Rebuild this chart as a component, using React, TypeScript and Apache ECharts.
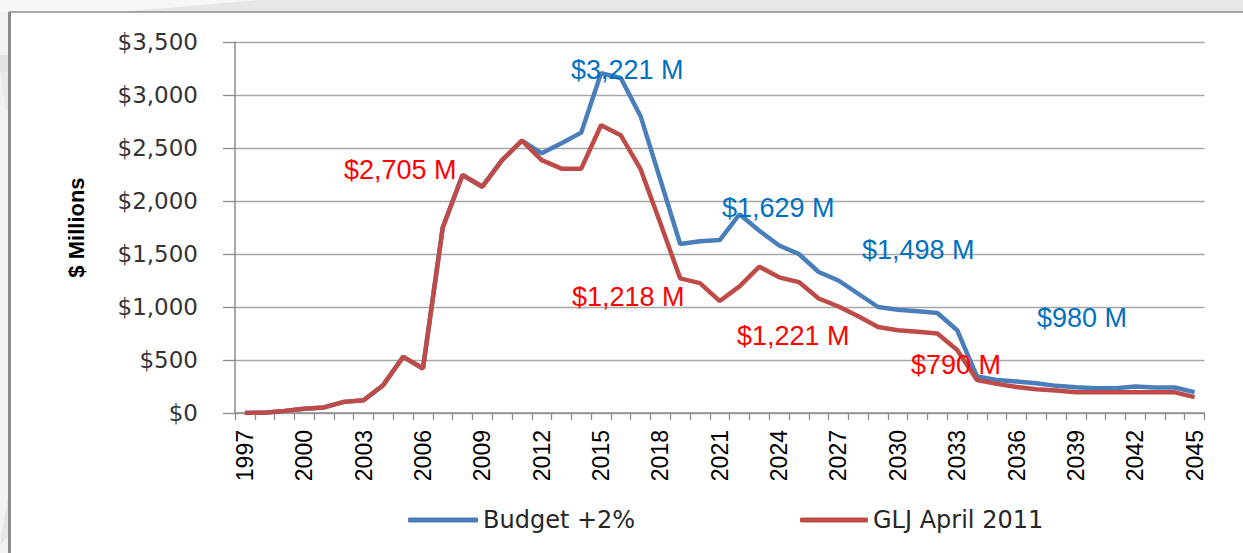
import React, { useEffect, useRef } from "react";
import * as echarts from "echarts";

const years: string[] = [];
for (let y = 1997; y <= 2045; y++) years.push(String(y));

const budgetName = "Budget +2%";
const gljName = "GLJ April 2011";

const budget = [
  0, 3, 20, 40, 53, 105, 120, 265, 530, 420,
  1750, 2245, 2135, 2385, 2570, 2450, 2545, 2645, 3205, 3160,
  2800, 2200, 1594, 1620, 1631, 1875, 1720, 1580, 1500, 1330,
  1250, 1125, 1000, 975, 960, 944, 781, 344, 312, 297,
  281, 256, 244, 234, 234, 250, 240, 240, 197,
];

const glj = [
  0, 3, 20, 40, 53, 105, 120, 265, 530, 420,
  1750, 2245, 2135, 2385, 2570, 2385, 2305, 2305, 2715, 2620,
  2300, 1790, 1270, 1225, 1056, 1195, 1380, 1280, 1235, 1080,
  1005, 912, 812, 781, 766, 750, 594, 312, 275, 245,
  225, 212, 195, 195, 195, 195, 195, 195, 150,
];

const yMin = 0;
const yMax = 3500;
const yStep = 500;

const annotationTexts = ["$3,221 M", "$2,705 M", "$1,218 M", "$1,629 M", "$1,498 M", "$1,221 M", "$980 M", "$790 M"];
const annotationColors = ["#0070C0", "#FF0000", "#FF0000", "#0070C0", "#0070C0", "#FF0000", "#0070C0", "#FF0000"];
const annotationX = [571, 344, 572, 722, 862, 737, 1037, 911];
const annotationY = [70, 170, 297, 208, 250, 336, 318, 365];

export default function App() {
  const ref = useRef<HTMLDivElement>(null);
  useEffect(() => {
    if (!ref.current) return;
    const chart = echarts.init(ref.current, undefined, { renderer: "svg" });
    const blue = "#4A7EBB";
    const red = "#BE4B48";
    const annotations = annotationTexts.map((t, i) => ({
      type: "text",
      x: annotationX[i],
      y: annotationY[i],
      z: 100,
      style: {
        text: t,
        fill: annotationColors[i],
        font: "27px 'Liberation Sans', Arial, sans-serif",
        textAlign: "left",
        textVerticalAlign: "middle",
      },
    }));
    chart.setOption({
      animation: false,
      backgroundColor: "#F2F2F2",
      graphic: [
        { type: "rect", z: -10, silent: true, shape: { x: 0, y: 0, width: 1243, height: 12 }, style: { fill: "#E6E6E6" } },
        { type: "polygon", z: -9, silent: true, shape: { points: [[0, 0], [260, 0], [120, 12], [0, 12]] }, style: { fill: "#F7F7F7" } },
        { type: "polygon", z: -9, silent: true, shape: { points: [[0, 55], [9, 55], [9, 72], [0, 72]] }, style: { fill: "#E2E2E2" } },
        { type: "polygon", z: -9, silent: true, shape: { points: [[0, 72], [9, 72], [9, 110], [6, 110]] }, style: { fill: "#EAEAEA" } },
        { type: "polygon", z: -9, silent: true, shape: { points: [[9, 490], [9, 535], [0, 545]] }, style: { fill: "#E6E6E6" } },
        { type: "rect", z: -8, silent: true, shape: { x: 9, y: 12, width: 1240, height: 545 }, style: { fill: "#FFFFFF" } },
        { type: "line", z: -7, silent: true, shape: { x1: 9, y1: 12, x2: 1243, y2: 12 }, style: { stroke: "#8C8C8C", lineWidth: 1.5 } },
        { type: "line", z: -7, silent: true, shape: { x1: 9.5, y1: 12, x2: 9.5, y2: 553 }, style: { stroke: "#8C8C8C", lineWidth: 3 } },
        ...annotations,
      ],
      grid: { left: 235, right: 38.5, top: 42, bottom: 140, containLabel: false },
      legend: [
        {
          data: [budgetName],
          left: 403,
          top: 503,
          icon: "roundRect",
          itemWidth: 70,
          itemHeight: 5,
          textStyle: { fontFamily: "'DejaVu Sans', sans-serif", fontSize: 24, color: "#262626" },
        },
        {
          data: [gljName],
          left: 795,
          top: 503,
          icon: "roundRect",
          itemWidth: 68,
          itemHeight: 5,
          textStyle: { fontFamily: "'DejaVu Sans', sans-serif", fontSize: 24, color: "#262626" },
        },
      ],
      xAxis: {
        type: "category",
        data: years,
        boundaryGap: true,
        axisLine: { lineStyle: { color: "#8C8C8C", width: 1.5 } },
        axisTick: { show: true, interval: 0, length: 7, lineStyle: { color: "#8C8C8C", width: 1.3 } },
        axisLabel: {
          interval: 2,
          rotate: 90,
          margin: 17,
          color: "#000",
          fontSize: 23,
          fontFamily: "'Liberation Sans', Arial, sans-serif",
        },
        splitLine: { show: false },
      },
      yAxis: {
        type: "value",
        min: yMin,
        max: yMax,
        interval: yStep,
        name: "$ Millions",
        nameLocation: "middle",
        nameRotate: 90,
        nameGap: 148,
        nameTextStyle: {
          fontFamily: "'Liberation Sans', Arial, sans-serif",
          fontWeight: "bold",
          fontSize: 22,
          color: "#000",
        },
        axisLine: { show: true, lineStyle: { color: "#8C8C8C", width: 1.5 } },
        axisTick: { show: true, length: 12, lineStyle: { color: "#8C8C8C", width: 1.3 } },
        axisLabel: {
          margin: 37,
          color: "#333",
          fontSize: 23,
          fontFamily: "'DejaVu Sans', sans-serif",
          formatter: (v: number) => "$" + v.toLocaleString("en-US"),
        },
        splitLine: { show: true, lineStyle: { color: "#A6A6A6", width: 1.3 } },
      },
      series: [
        {
          name: budgetName,
          type: "line",
          data: budget,
          symbol: "none",
          lineStyle: { color: blue, width: 4.5 },
          itemStyle: { color: blue },
          z: 2,
        },
        {
          name: gljName,
          type: "line",
          data: glj,
          symbol: "none",
          lineStyle: { color: red, width: 4.5 },
          itemStyle: { color: red },
          z: 3,
        },
      ],
    });
    return () => chart.dispose();
  }, []);
  return <div ref={ref} style={{ position: "fixed", left: 0, top: 0, width: 1243, height: 553 }} />;
}
